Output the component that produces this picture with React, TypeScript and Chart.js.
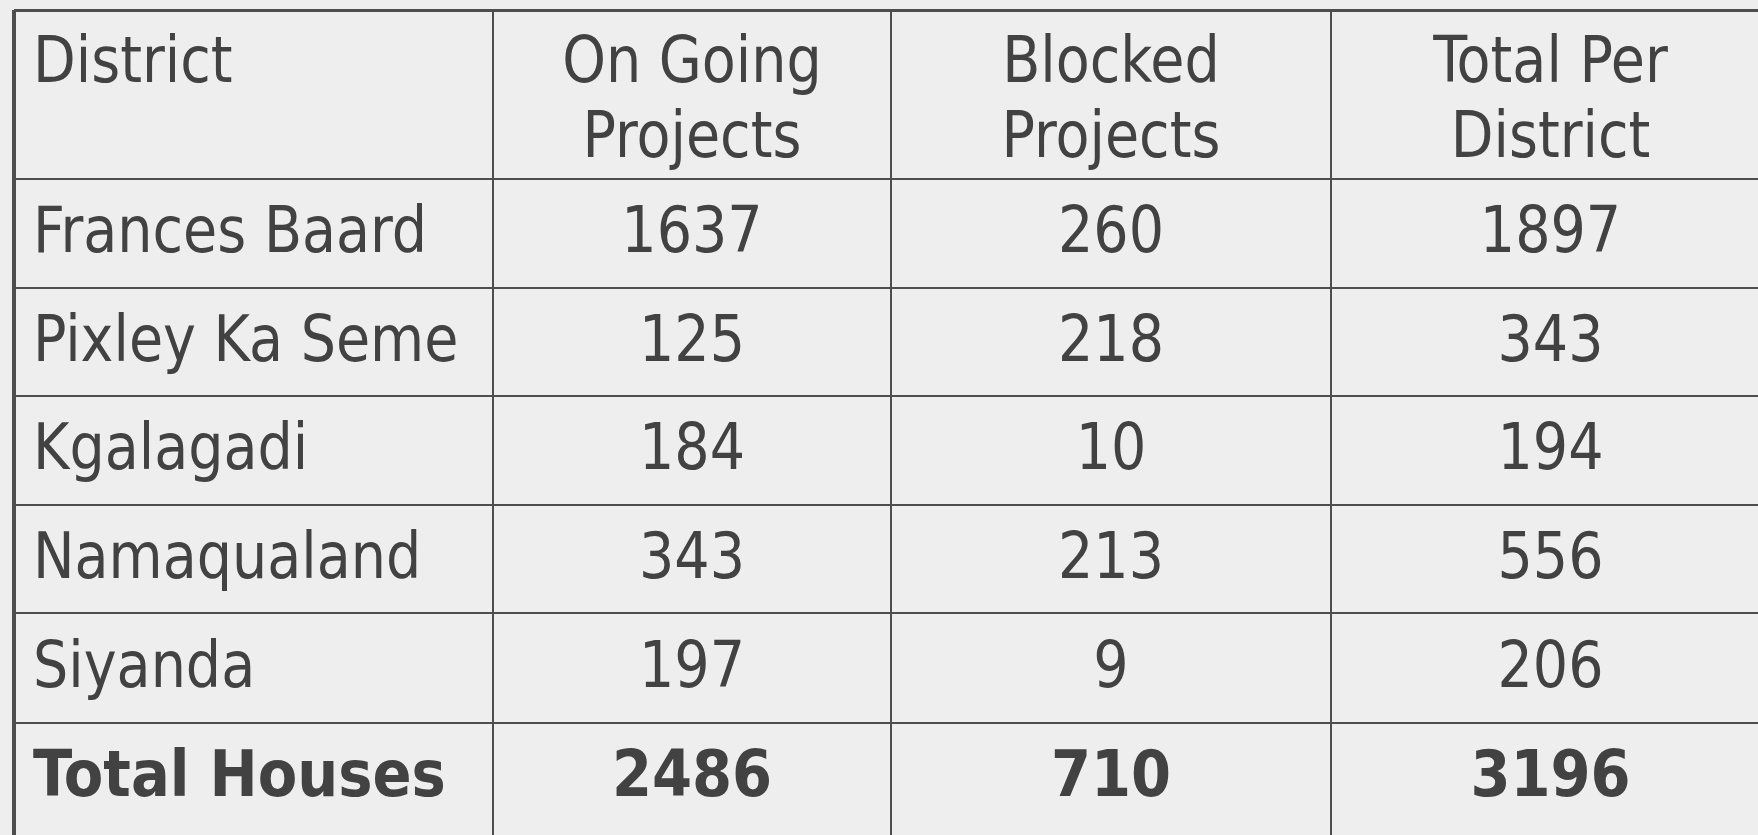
import React, { useEffect, useRef } from "react";
import { Chart, registerables } from "chart.js";

Chart.register(...registerables);

// ---- data ----
const headerLines: string[][] = [
  ["District"],
  ["On Going", "Projects"],
  ["Blocked", "Projects"],
  ["Total Per", "District"],
];
const districts = ["Frances Baard", "Pixley Ka Seme", "Kgalagadi", "Namaqualand", "Siyanda"];
const onGoingProjects = [1637, 125, 184, 343, 197];
const blockedProjects = [260, 218, 10, 213, 9];
const totalPerDistrict = [1897, 343, 194, 556, 206];
const totalLabel = "Total Houses";
const totalHouses = [2486, 710, 3196];

// ---- layout (scale units = pixels) ----
const colEdges = [14, 493, 891, 1331];
const rowEdges = [10, 179, 288, 396, 505, 613, 723];
const tableRight = 1770;
const tableBottom = 832;

const W = 1758;
const H = 835;
const BG = "#eeeeee";
const LINE = "#4e4e4e";
const TEXT = "#424242";
const FONT = '"DejaVu Sans Condensed", "DejaVu Sans", Verdana, sans-serif';
const SIZE = 64;

export default function App() {
  const ref = useRef<HTMLCanvasElement | null>(null);

  useEffect(() => {
    if (!ref.current) return;

    const rows: { cells: (string | number)[]; bold: boolean }[] = [];
    districts.forEach((d, i) => {
      rows.push({ cells: [d, onGoingProjects[i], blockedProjects[i], totalPerDistrict[i]], bold: false });
    });
    rows.push({ cells: [totalLabel, ...totalHouses], bold: true });

    const colRight = (i: number) => (i + 1 < colEdges.length ? colEdges[i + 1] : tableRight);
    const rowBottom = (r: number) => (r + 1 < rowEdges.length ? rowEdges[r + 1] : tableBottom);

    const drawText = (
      c: CanvasRenderingContext2D,
      t: string,
      x: number,
      y: number,
      align: "left" | "center",
      sx: number
    ) => {
      c.save();
      c.translate(x, y);
      c.scale(sx, 1);
      c.textAlign = align;
      c.fillText(t, 0, 0);
      c.restore();
    };

    const tablePlugin = {
      id: "tablePlugin",
      beforeDraw(chart: any) {
        const c = chart.ctx;
        c.save();
        c.fillStyle = BG;
        c.fillRect(0, 0, chart.width, chart.height);
        c.restore();
      },
      afterDraw(chart: any) {
        const c = chart.ctx as CanvasRenderingContext2D;
        const xs = chart.scales.x;
        const ys = chart.scales.y;
        const colL = (i: number) => xs.getPixelForValue(colEdges[i]);
        const colC = (i: number) => (xs.getPixelForValue(colEdges[i]) + xs.getPixelForValue(colRight(i))) / 2;
        const rowT = (r: number) => ys.getPixelForValue(rowEdges[r]);
        const rowB = (r: number) => ys.getPixelForValue(rowBottom(r));
        c.save();
        c.fillStyle = TEXT;
        c.textBaseline = "alphabetic";
        // header
        c.font = `${SIZE}px ${FONT}`;
        headerLines.forEach((lines, ci) => {
          lines.forEach((ln, li) => {
            const y = rowT(0) + 72 + li * 75;
            if (ci === 0) drawText(c, ln, colL(0) + 19, y, "left", 0.965);
            else drawText(c, ln, colC(ci), y, "center", 0.965);
          });
        });
        // body rows
        rows.forEach((row, ri) => {
          const r = ri + 1;
          const y = (rowT(r) + rowB(r)) / 2 + 18.5;
          c.font = `${row.bold ? "bold " : ""}${SIZE}px ${FONT}`;
          const sx = row.bold ? 1.0 : 0.965;
          row.cells.forEach((v, ci) => {
            if (ci === 0) drawText(c, String(v), colL(0) + 19, y, "left", sx);
            else drawText(c, String(v), colC(ci), y, "center", sx);
          });
        });
        c.restore();
      },
    };

    const chart = new Chart(ref.current, {
      type: "scatter",
      data: { datasets: [] },
      options: {
        animation: false,
        responsive: false,
        maintainAspectRatio: false,
        layout: { padding: { left: colEdges[0], top: rowEdges[0], right: 0, bottom: 0 } },
        plugins: { legend: { display: false }, tooltip: { enabled: false }, title: { display: false } },
        scales: {
          x: {
            type: "linear",
            min: colEdges[0],
            max: W,
            ticks: { display: false },
            border: { display: false },
            afterBuildTicks: (axis: any) => {
              axis.ticks = colEdges.map((v) => ({ value: v }));
            },
            grid: {
              display: true,
              drawTicks: false,
              color: LINE,
              lineWidth: (ctx: any) => (ctx.index === 0 ? 4 : 2),
            },
          },
          y: {
            type: "linear",
            reverse: true,
            min: rowEdges[0],
            max: H,
            ticks: { display: false },
            border: { display: false },
            afterBuildTicks: (axis: any) => {
              axis.ticks = rowEdges.map((v) => ({ value: v }));
            },
            grid: {
              display: true,
              drawTicks: false,
              color: LINE,
              lineWidth: (ctx: any) => (ctx.index === 0 ? 3 : 2),
            },
          },
        },
      } as any,
      plugins: [tablePlugin],
    });
    return () => chart.destroy();
  }, []);

  return (
    <div style={{ position: "fixed", left: 0, top: 0, width: W, height: H, background: BG }}>
      <canvas ref={ref} width={W} height={H} style={{ display: "block", width: W, height: H }} />
    </div>
  );
}
